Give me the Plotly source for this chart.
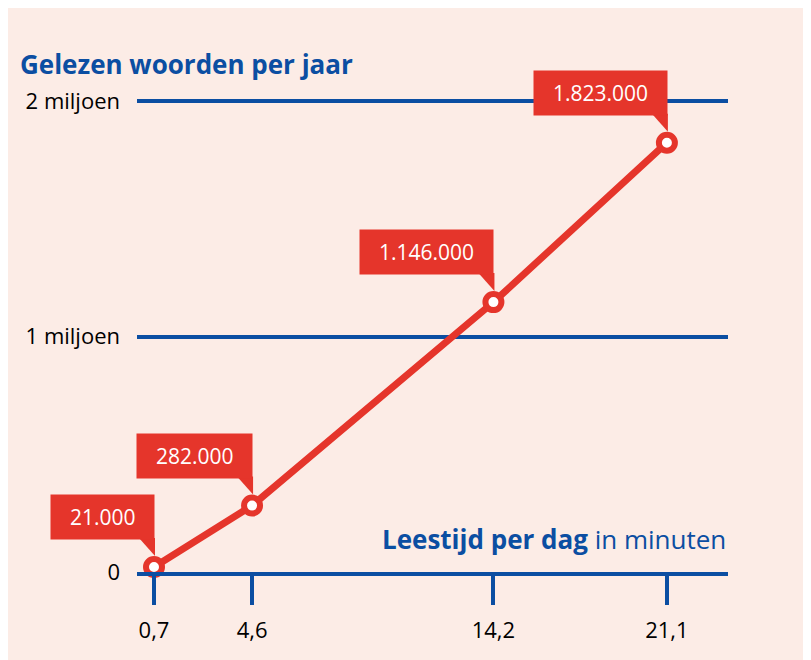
import plotly.graph_objects as go

# Data
minutes = [0.7, 4.6, 14.2, 21.1]
words = [21000, 282000, 1146000, 1823000]
value_labels = ["21.000", "282.000", "1.146.000", "1.823.000"]
x_tick_text = ["0,7", "4,6", "14,2", "21,1"]
y_tick_vals = [0, 1000000, 2000000]
y_tick_text = ["0", "1 miljoen", "2 miljoen"]

RED = "#e5352b"
BLUE = "#0b4ea2"
PINK = "#fcece6"
FONT = "Open Sans"

W, H = 811, 660
L, R, T, B = 129, 91, 52, 96

fig = go.Figure()
fig.add_trace(go.Scatter(
    x=minutes, y=words, mode="lines+markers",
    line=dict(color=RED, width=7),
    marker=dict(size=16, color="white", line=dict(color=RED, width=6)),
    cliponaxis=False, hoverinfo="skip", showlegend=False,
))

annotations = []
for xv, yv, lab in zip(minutes, words, value_labels):
    annotations.append(dict(
        x=xv, y=yv, xref="x", yref="y",
        text="\u00a0\u00a0" + lab + "\u00a0\u00a0",
        showarrow=False, xanchor="right", yanchor="bottom",
        xshift=1, yshift=27, bgcolor=RED, borderpad=8,
        font=dict(family=FONT, size=21, color="white"),
    ))
    fig.add_shape(type="path", xref="x", yref="y",
                  xsizemode="pixel", ysizemode="pixel",
                  xanchor=xv, yanchor=yv,
                  path="M 1,11 L 1,29 L -15,29 Z",
                  fillcolor=RED, line=dict(width=0))

annotations.append(dict(
    xref="paper", yref="paper", x=1, y=0, xanchor="right", yanchor="middle",
    yshift=33, showarrow=False,
    text="<b>Leestijd per dag</b> in minuten",
    font=dict(family=FONT, size=26, color=BLUE),
))

fig.update_layout(
    width=W, height=H,
    margin=dict(l=L, r=R, t=T, b=B, pad=0),
    paper_bgcolor=PINK, plot_bgcolor=PINK,
    title=dict(text="<b>Gelezen woorden per jaar</b>",
               x=12 / W, xanchor="left", y=1 - 57 / H, yanchor="middle",
               font=dict(family=FONT, size=26, color=BLUE)),
    annotations=annotations,
    xaxis=dict(range=[0.024, 23.53], tickvals=minutes, ticktext=x_tick_text,
               showgrid=False, zeroline=False, showline=True,
               linecolor=BLUE, linewidth=4,
               ticks="outside", ticklen=29, tickwidth=4, tickcolor=BLUE,
               ticklabelstandoff=7,
               tickfont=dict(family=FONT, size=22, color="black")),
    yaxis=dict(range=[0, (H - T - B) / 235.5 * 1e6], tickvals=y_tick_vals,
               ticktext=y_tick_text, showgrid=True, gridcolor=BLUE,
               gridwidth=4, zeroline=False, showline=False, ticks="",
               ticklabelstandoff=16,
               tickfont=dict(family=FONT, size=22, color="black")),
    font=dict(family=FONT),
)

fig.write_html("out.html")
